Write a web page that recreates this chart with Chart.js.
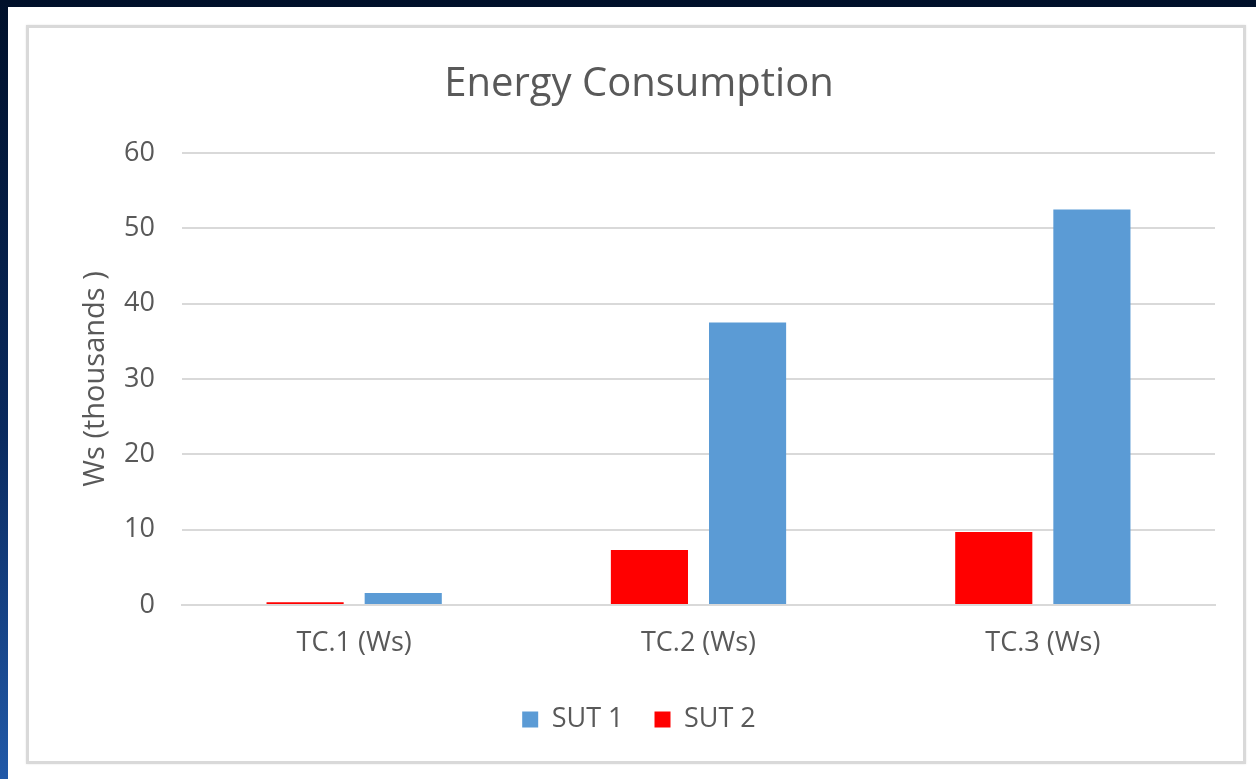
<!DOCTYPE html>
<html>
<head>
    <title>Energy Consumption</title>
    <script src="https://cdn.jsdelivr.net/npm/chart.js"></script>
    <style>
        html, body { margin: 0; padding: 0; }
        body {
            width: 1256px; height: 779px; overflow: hidden;
            background: linear-gradient(to bottom, #00102a 0%, #0a2a5e 55%, #2159a8 100%);
            position: relative;
        }
        #sheet {
            position: absolute; left: 8px; top: 7px; width: 1248px; height: 772px;
            background: #ffffff;
        }
        #frame {
            position: absolute; left: 18px; top: 18px; width: 1214px; height: 733px;
            border: 3px solid #d9d9d9;
            box-shadow: 0 0 2px #e6e6e6;
            background: #ffffff;
        }
        #chart { position: absolute; left: 0; top: 0; }
    </style>
</head>
<body>
    <div id="sheet">
        <div id="frame">
            <canvas id="chart" width="1214" height="733"></canvas>
        </div>
    </div>

    <script>
        const categories = ['TC.1 (Ws)', 'TC.2 (Ws)', 'TC.3 (Ws)'];
        const sut1 = [1.6, 37.5, 52.5];
        const sut2 = [0.35, 7.3, 9.7];
        const yTicks = [0, 10, 20, 30, 40, 50, 60];

        const grey = '#595959';
        const fontFamily = '"Open Sans", sans-serif';

        const ctx = document.getElementById('chart').getContext('2d');
        const chart = new Chart(ctx, {
            type: 'bar',
            data: {
                labels: categories,
                datasets: [{
                    label: 'SUT 2',
                    data: sut2,
                    backgroundColor: '#ff0000'
                }, {
                    label: 'SUT 1',
                    data: sut1,
                    backgroundColor: '#5b9bd5'
                }]
            },
            options: {
                responsive: false,
                animation: false,
                categoryPercentage: 0.57,
                barPercentage: 0.786,
                layout: { padding: { left: 34, right: 28, top: 0, bottom: 18 } },
                plugins: {
                    title: {
                        display: true,
                        text: 'Energy Consumption',
                        color: grey,
                        font: { family: fontFamily, size: 40, weight: 'normal' },
                        padding: { top: 33, bottom: 44 }
                    },
                    legend: {
                        position: 'bottom',
                        reverse: true,
                        labels: {
                            color: grey,
                            font: { family: fontFamily, size: 27 },
                            boxWidth: 16,
                            boxHeight: 16,
                            padding: 31
                        }
                    },
                    tooltip: { enabled: false }
                },
                scales: {
                    x: {
                        grid: { display: false, drawTicks: false },
                        border: { color: '#d9d9d9', width: 2 },
                        ticks: {
                            color: grey,
                            font: { family: fontFamily, size: 27 },
                            padding: 22
                        },
                        afterFit: function(scale) { scale.height = 70; }
                    },
                    y: {
                        min: 0,
                        max: 60,
                        afterBuildTicks: function(scale) {
                            scale.ticks = yTicks.map(v => ({ value: v }));
                        },
                        grid: { color: '#d9d9d9', lineWidth: 2, drawTicks: false },
                        border: { display: false },
                        ticks: {
                            color: grey,
                            font: { family: fontFamily, size: 27 },
                            padding: 27
                        },
                        title: {
                            display: true,
                            text: 'Ws (thousands )',
                            color: grey,
                            font: { family: fontFamily, size: 29 },
                            padding: { top: 15, bottom: 0 }
                        },
                        afterFit: function(scale) { scale.width = 119; }
                    }
                }
            }
        });
    </script>
</body>
</html>
